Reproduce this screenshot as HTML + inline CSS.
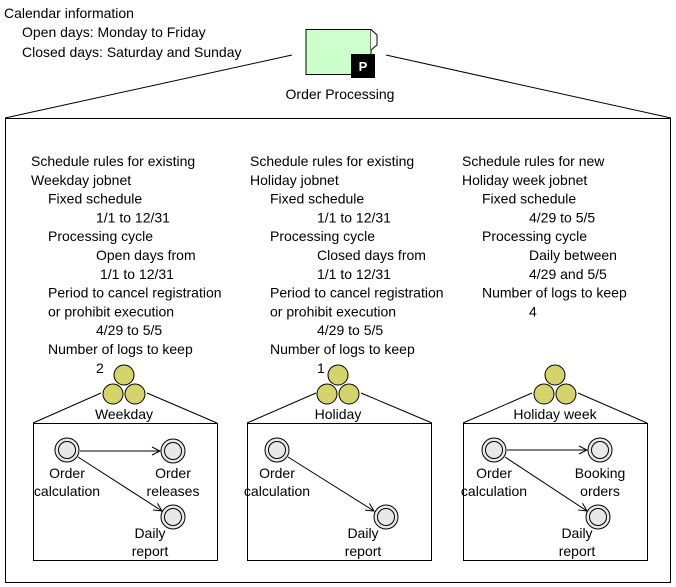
<!DOCTYPE html>
<html><head><meta charset="utf-8"><style>
html,body{margin:0;padding:0;background:#fff}
svg{display:block}
text{font-family:"Liberation Sans",Arial,sans-serif;font-size:14px;fill:#000}
</style></head><body>
<svg width="676" height="587" viewBox="0 0 676 587" xmlns="http://www.w3.org/2000/svg">
<defs>
<marker id="ar" markerWidth="10" markerHeight="10" refX="9" refY="5" orient="auto" markerUnits="userSpaceOnUse">
<path d="M1,1 L9,5 L1,9" fill="none" stroke="#000" stroke-width="1"/></marker>
<g id="grp">
<circle cx="0" cy="0" r="10" fill="#d4d46a" stroke="#000"/>
<circle cx="-11" cy="19" r="10" fill="#d4d46a" stroke="#000"/>
<circle cx="11" cy="19" r="10" fill="#d4d46a" stroke="#000"/>
</g>
<g id="job">
<circle cx="0" cy="0" r="12" fill="#e8e8e8" stroke="#000"/>
<circle cx="0" cy="0" r="8.5" fill="#e8e8e8" stroke="#000"/>
</g>
</defs>
<text x="4" y="18">Calendar information</text>
<text x="22" y="37">Open days: Monday to Friday</text>
<text x="22" y="57">Closed days: Saturday and Sunday</text>
<rect x="306" y="29.5" width="65" height="45" fill="#ccffcc" stroke="#000"/>
<path d="M371,29.5 L377,35 L377,45 L371,50" fill="#fff" stroke="#000"/>
<rect x="351" y="54" width="24" height="24" fill="#000"/>
<text x="363" y="71" text-anchor="middle" style="fill:#fff;font-weight:bold;font-size:13px">P</text>
<text x="340" y="99" text-anchor="middle">Order Processing</text>
<line x1="292" y1="55" x2="5" y2="118" stroke="#000"/>
<line x1="386" y1="55" x2="671" y2="118" stroke="#000"/>
<rect x="5.5" y="118.5" width="665" height="464" fill="none" stroke="#000"/>

<g>
<text x="31" y="166">Schedule rules for existing</text>
<text x="31" y="184.8">Weekday jobnet</text>
<text x="48" y="203.6">Fixed schedule</text>
<text x="96" y="222.4">1/1 to 12/31</text>
<text x="48" y="241.2">Processing cycle</text>
<text x="96" y="260">Open days from</text>
<text x="100" y="278.8">1/1 to 12/31</text>
<text x="48" y="297.6">Period to cancel registration</text>
<text x="48" y="316.4">or prohibit execution</text>
<text x="96" y="335.2">4/29 to 5/5</text>
<text x="48" y="354">Number of logs to keep</text>
<text x="96" y="372.8">2</text>
</g>
<g>
<text x="250" y="166">Schedule rules for existing</text>
<text x="250" y="184.8">Holiday jobnet</text>
<text x="270" y="203.6">Fixed schedule</text>
<text x="317" y="222.4">1/1 to 12/31</text>
<text x="270" y="241.2">Processing cycle</text>
<text x="317" y="260">Closed days from</text>
<text x="317" y="278.8">1/1 to 12/31</text>
<text x="270" y="297.6">Period to cancel registration</text>
<text x="270" y="316.4">or prohibit execution</text>
<text x="317" y="335.2">4/29 to 5/5</text>
<text x="270" y="354">Number of logs to keep</text>
<text x="317" y="372.8">1</text>
</g>
<g>
<text x="462" y="166">Schedule rules for new</text>
<text x="462" y="184.8">Holiday week jobnet</text>
<text x="482" y="203.6">Fixed schedule</text>
<text x="529" y="222.4">4/29 to 5/5</text>
<text x="482" y="241.2">Processing cycle</text>
<text x="529" y="260">Daily between</text>
<text x="529" y="278.8">4/29 and 5/5</text>
<text x="482" y="297.6">Number of logs to keep</text>
<text x="529" y="316.4">4</text>
</g>

<!-- Weekday -->
<use href="#grp" x="124" y="375"/>
<text x="124" y="419" text-anchor="middle">Weekday</text>
<line x1="101" y1="393" x2="33" y2="423" stroke="#000"/>
<line x1="147" y1="393" x2="217" y2="423" stroke="#000"/>
<rect x="33.5" y="423.5" width="184" height="137" fill="#fff" stroke="#000"/>
<line x1="80" y1="451" x2="160" y2="451" stroke="#000" marker-end="url(#ar)"/>
<line x1="78" y1="457" x2="162" y2="511" stroke="#000" marker-end="url(#ar)"/>
<use href="#job" x="67" y="450"/>
<use href="#job" x="173" y="451"/>
<use href="#job" x="173" y="517"/>
<text x="67" y="478" text-anchor="middle">Order</text>
<text x="67" y="496" text-anchor="middle">calculation</text>
<text x="173" y="478" text-anchor="middle">Order</text>
<text x="173" y="496" text-anchor="middle">releases</text>
<text x="150" y="538" text-anchor="middle">Daily</text>
<text x="150" y="556" text-anchor="middle">report</text>

<!-- Holiday -->
<use href="#grp" x="338" y="375"/>
<text x="338" y="419" text-anchor="middle">Holiday</text>
<line x1="316" y1="393" x2="247" y2="423" stroke="#000"/>
<line x1="361" y1="393" x2="432" y2="423" stroke="#000"/>
<rect x="247.5" y="423.5" width="184" height="137" fill="#fff" stroke="#000"/>
<line x1="288" y1="457" x2="374" y2="511" stroke="#000" marker-end="url(#ar)"/>
<use href="#job" x="277" y="450"/>
<use href="#job" x="386" y="517"/>
<text x="277" y="478" text-anchor="middle">Order</text>
<text x="277" y="496" text-anchor="middle">calculation</text>
<text x="363" y="538" text-anchor="middle">Daily</text>
<text x="363" y="556" text-anchor="middle">report</text>

<!-- Holiday week -->
<use href="#grp" x="555" y="375"/>
<text x="555" y="419" text-anchor="middle">Holiday week</text>
<line x1="532" y1="393" x2="463" y2="423" stroke="#000"/>
<line x1="578" y1="393" x2="647" y2="423" stroke="#000"/>
<rect x="463.5" y="423.5" width="184" height="137" fill="#fff" stroke="#000"/>
<line x1="507" y1="450" x2="587" y2="450" stroke="#000" marker-end="url(#ar)"/>
<line x1="505" y1="457" x2="587" y2="511" stroke="#000" marker-end="url(#ar)"/>
<use href="#job" x="494" y="450"/>
<use href="#job" x="600" y="450"/>
<use href="#job" x="598" y="517"/>
<text x="494" y="478" text-anchor="middle">Order</text>
<text x="494" y="496" text-anchor="middle">calculation</text>
<text x="600" y="478" text-anchor="middle">Booking</text>
<text x="600" y="496" text-anchor="middle">orders</text>
<text x="577" y="538" text-anchor="middle">Daily</text>
<text x="577" y="556" text-anchor="middle">report</text>
</svg>
</body></html>
